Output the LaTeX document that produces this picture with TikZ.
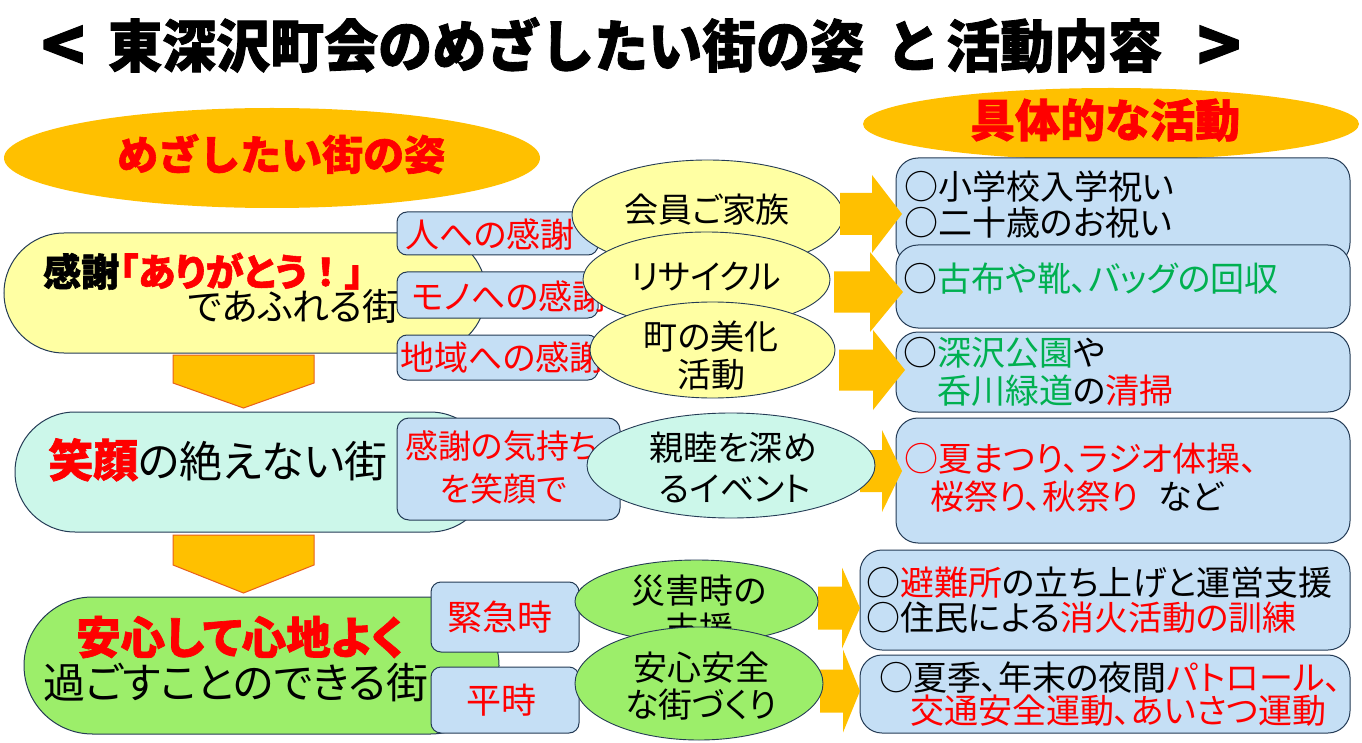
\documentclass[tikz,border=0pt]{standalone}
\usepackage{fontspec}
\usetikzlibrary{shapes.geometric}
\newfontfamily\jp[RawFeature={+palt}]{Noto Sans CJK JP}
\newfontfamily\hv[BoldFeatures={FakeBold=1.5}]{Noto Sans CJK JP}
\newfontfamily\hvp[RawFeature={+palt},BoldFeatures={FakeBold=1.5}]{Noto Sans CJK JP}
\newcommand\fsz[1]{\fontsize{#1}{#1}\selectfont}
\definecolor{cred}{HTML}{FF0000}
\definecolor{cgreen}{HTML}{00B050}
\definecolor{corange}{HTML}{FFC000}
\definecolor{cyel}{HTML}{FFFFA3}
\definecolor{ccyan}{HTML}{CCF7EA}
\definecolor{cgrn}{HTML}{9CEE6A}
\definecolor{cblue}{HTML}{C5DFF5}
\definecolor{cbd}{HTML}{243B55}
\definecolor{cdarr}{HTML}{E8601A}
\tikzset{
  tx/.style={inner sep=0pt, anchor=base west},
  txc/.style={inner sep=0pt, anchor=base},
  capsule/.style={draw=cbd, line width=1pt, inner sep=0pt, rectangle},
  sbox/.style={draw=cbd, line width=1pt, inner sep=0pt, rectangle, fill=cblue, rounded corners=10pt},
  rbox/.style={draw=cbd, line width=1pt, inner sep=0pt, rectangle, fill=cblue, rounded corners=22pt},
  oval/.style={draw=cbd, line width=0.9pt, inner sep=0pt, ellipse},
  hdell/.style={fill=corange, inner sep=0pt, ellipse},
  barr/.style={fill=corange},
  darr/.style={fill=corange, draw=cdarr, line width=1pt},
  bodytx/.style={tx, font=\jp\fsz{34}},
  ttl/.style={tx, font=\hv\bfseries\fsz{54}},
}
\newcommand\barrow[6]{%
  \fill[barr] (#1,#4-#5) -- (#2,#4-#5) -- (#2,#4-#6) -- (#3,#4) -- (#2,#4+#6) -- (#2,#4+#5) -- (#1,#4+#5) -- cycle;}
\begin{document}
\begin{tikzpicture}[x=1pt,y=-1pt]
\useasboundingbox[fill=white] (0,0) rectangle (1362,743);

% title
\node[ttl, font=\hv\bfseries\fsz{72}] (t1) at (41,72) {<};
\node[ttl] (t2) at (108,67) {\scalebox{1}[1.05]{東深沢町会のめざしたい街の姿}};
\node[ttl] (t3) at (886,67) {\scalebox{1}[1.05]{と}};
\node[ttl] (t4) at (946,67) {\scalebox{1}[1.05]{活動内容}};
\node[ttl, font=\hv\bfseries\fsz{72}] (t5) at (1197,72) {>};

% header ellipses
\node[hdell, minimum width=536pt, minimum height=100pt] (ellL) at (272,158) {};
\node[tx, font=\hv\bfseries\fsz{41}, text=cred] (ellLt) at (117,170) {めざしたい街の姿};
\node[hdell, minimum width=496pt, minimum height=72pt] (ellR) at (1111,124) {};
\node[tx, font=\hv\bfseries\fsz{45}, text=cred] (ellRt) at (970,137) {具体的な活動};

% row 1
\node[capsule, fill=cyel, minimum width=482pt, minimum height=120pt, rounded corners=60pt] (cap1) at (245,293) {};
\node[tx, font=\hvp\bfseries\fsz{38}] (cap1a) at (43,286) {{\hv\bfseries 感謝}\textcolor{cred}{「ありがとう{\hv\bfseries ！}」}};
\node[tx, font=\jp\fsz{37}] (cap1b) at (188,320) {であふれる街};

\node[sbox, minimum width=201pt, minimum height=43pt] (b1) at (497.5,233.5) {};
\node[bodytx, text=cred] (b1t) at (405,248) {人への感謝};
\node[sbox, minimum width=201pt, minimum height=46pt] (b2) at (497.5,295) {};
\node[bodytx, text=cred] (b2t) at (412,309) {モノへの感謝};
\node[sbox, minimum width=201pt, minimum height=45pt] (b3) at (497.5,357.5) {};
\node[bodytx, text=cred] (b3t) at (400,370) {地域への感謝};

\node[oval, fill=cyel, minimum width=271pt, minimum height=110pt] (e1) at (707.5,215) {};
\node[txc, font=\jp\fsz{34}] (e1t) at (707,223) {会員ご家族};
\node[oval, fill=cyel, minimum width=247pt, minimum height=95pt] (e2) at (706.5,279.5) {};
\node[txc, font=\jp\fsz{34}] (e2t) at (706,289) {リサイクル};
\node[oval, fill=cyel, minimum width=245pt, minimum height=96pt] (e3) at (712.5,350) {};
\node[txc, font=\jp\fsz{34}] (e3t) at (711,349) {町の美化};
\node[txc, font=\jp\fsz{34}] (e3u) at (711,387) {活動};

% right boxes
\node[rbox, minimum width=454pt, minimum height=107pt] (bA) at (1123,211.5) {};
\node[bodytx] (bAt) at (904,200) {○小学校入学祝い};
\node[bodytx] (bAu) at (904,236) {○二十歳のお祝い};
\node[rbox, minimum width=454pt, minimum height=83pt] (bB) at (1123,286.5) {};
\node[bodytx] (bBt) at (903,291) {○\textcolor{cgreen}{古布や靴、バッグの回収}};
\node[rbox, minimum width=454pt, minimum height=80pt] (bC) at (1123,372) {};
\node[bodytx] (bCt) at (903,365) {○\textcolor{cgreen}{深沢公園}や};
\node[bodytx] (bCu) at (937,403) {\textcolor{cgreen}{呑川緑道}の\textcolor{cred}{清掃}};
\node[rbox, minimum width=454pt, minimum height=125pt] (bD) at (1123,480.5) {};
\node[bodytx, text=cred] (bDt) at (904,471) {○夏まつり、ラジオ体操、};
\node[bodytx] (bDu) at (930,509) {\textcolor{cred}{桜祭り、秋祭り}\hspace{20pt}など};
\node[rbox, minimum width=490pt, minimum height=100pt] (bE) at (1105,600) {};
\node[bodytx] (bEt) at (866,595) {○\textcolor{cred}{避難所}の立ち上げと運営支援};
\node[bodytx] (bEu) at (866,630) {○住民による\textcolor{cred}{消火活動の訓練}};
\node[rbox, minimum width=490pt, minimum height=78pt] (bF) at (1105,694) {};
\node[bodytx] (bFt) at (879,690) {○夏季、年末の夜間\textcolor{cred}{パトロール、}};
\node[bodytx, text=cred] (bFu) at (910,723) {交通安全運動、あいさつ運動};

% block arrows
\barrow{840}{872}{902}{214}{21}{39}
\barrow{834}{870}{903}{292}{20.5}{40}
\barrow{839}{873}{905}{370}{20.5}{40}
\barrow{860}{882}{902}{471}{21}{41}
\barrow{818}{842}{860}{608}{21.5}{40.5}
\barrow{820}{843}{860}{691}{21.5}{41.5}

% down arrows
\draw[darr] (173,355) -- (314,355) -- (314,383) -- (243.5,408) -- (173,383) -- cycle;
\draw[darr] (173,535) -- (314,535) -- (314,565) -- (243.5,593) -- (173,565) -- cycle;

% row 2
\node[capsule, fill=ccyan, minimum width=475pt, minimum height=120pt, rounded corners=60pt] (cap2) at (252.5,472) {};
\node[tx, font=\jp\fsz{43}] (cap2t) at (48,477) {{\hvp\bfseries\fsz{45}\color{cred}笑顔}の絶えない街};
\node[sbox, minimum width=223pt, minimum height=102pt, rounded corners=12pt] (b4) at (508.5,469) {};
\node[tx, font=\jp\fsz{33}, text=cred] (b4t) at (405,458.5) {感謝の気持ち};
\node[tx, font=\jp\fsz{33}, text=cred] (b4u) at (440,501.5) {を笑顔で};
\node[oval, fill=ccyan, minimum width=288pt, minimum height=105pt] (e4) at (731,465.5) {};
\node[txc, font=\jp\fsz{34}] (e4t) at (733,460) {親睦を深め};
\node[txc, font=\jp\fsz{34}] (e4u) at (735,501) {るイベント};

% row 3
\node[capsule, fill=cgrn, minimum width=475pt, minimum height=137pt, rounded corners=68.5pt] (cap3) at (261.5,665.5) {};
\node[tx, font=\hvp\bfseries\fsz{44.5}, text=cred] (cap3t) at (76,654) {安心して心地よく};
\node[tx, font=\jp\fsz{42}] (cap3u) at (43,698) {過ごすことのできる街};
\node[sbox, minimum width=148pt, minimum height=70pt] (b5) at (505,617) {};
\node[tx, font=\jp\fsz{35}, text=cred] (b5t) at (447,630) {緊急時};
\node[sbox, minimum width=148pt, minimum height=66pt] (b6) at (505,700) {};
\node[tx, font=\jp\fsz{35}, text=cred] (b6t) at (466,713) {平時};
\node[oval, fill=cgrn, minimum width=243pt, minimum height=83pt] (e5) at (696.5,601.5) {};
\node[txc, font=\jp\fsz{34}] (e5t) at (699,603) {災害時の};
\node[txc, font=\jp\fsz{34}] (e5u) at (699,641) {支援};
\node[oval, fill=cgrn, minimum width=248pt, minimum height=113pt] (e6) at (699,683.5) {};
\node[txc, font=\jp\fsz{34}] (e6t) at (701,680) {安心安全};
\node[txc, font=\jp\fsz{34}] (e6u) at (701,717) {な街づくり};
\end{tikzpicture}
\end{document}
